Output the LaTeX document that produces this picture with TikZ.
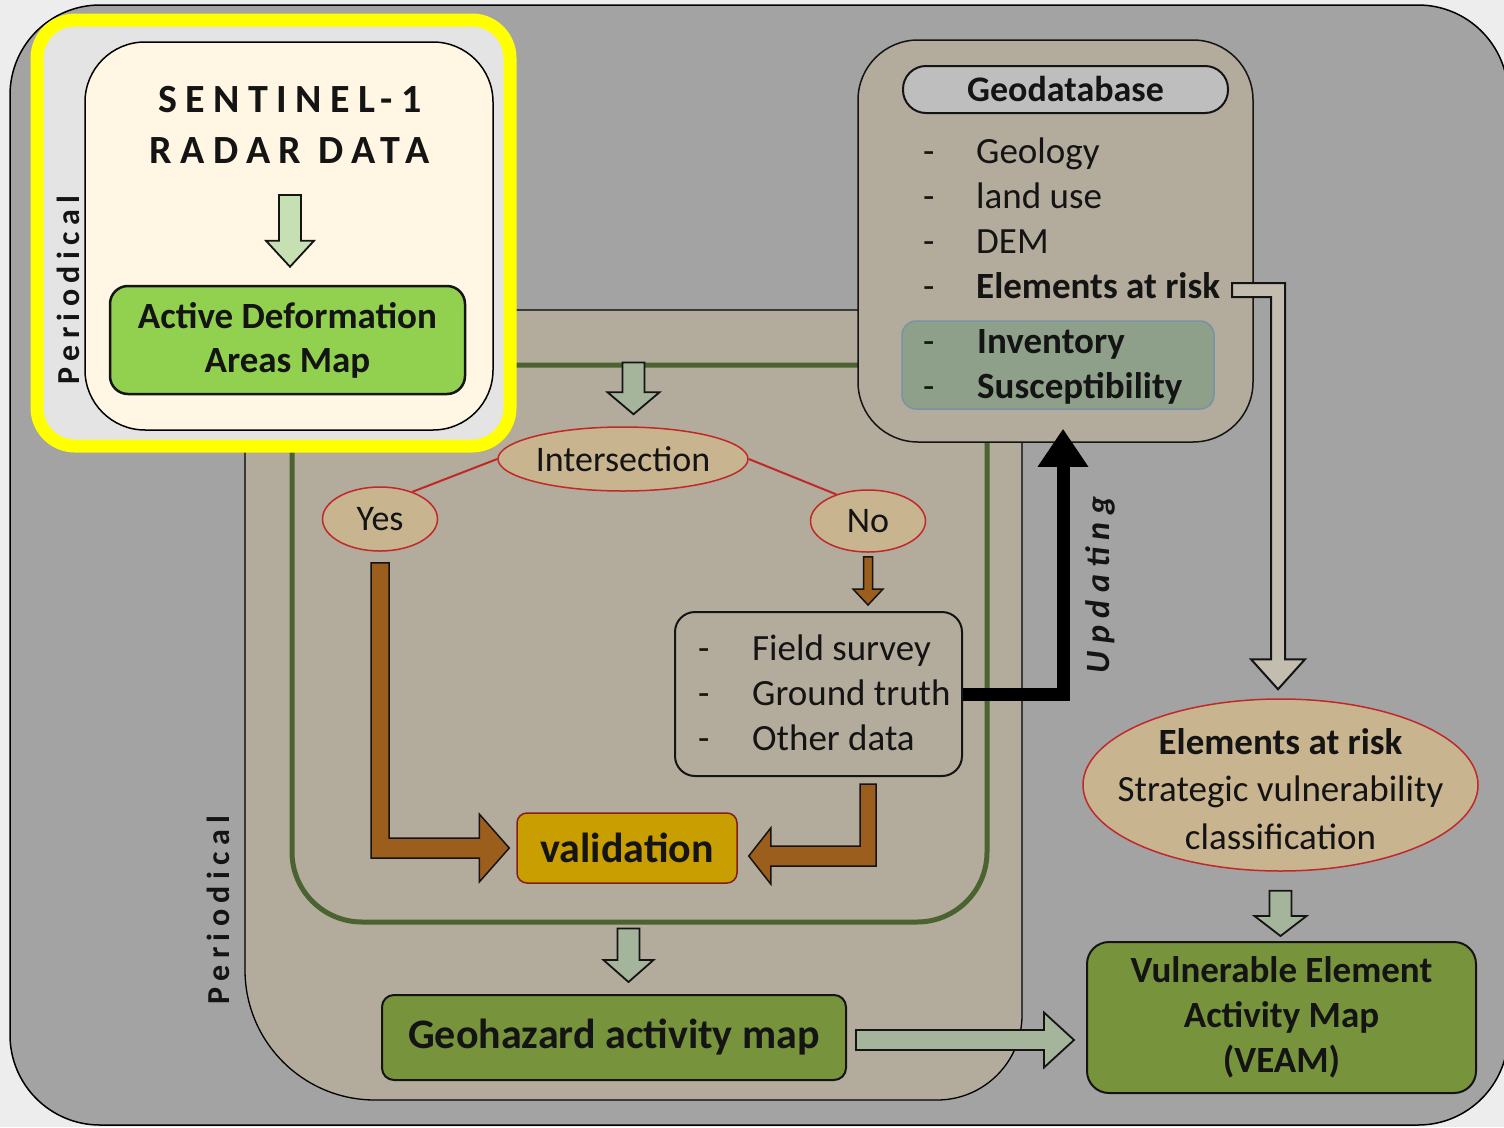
\documentclass[tikz,border=0pt]{standalone}
\usepackage{fontspec}
\setmainfont{Carlito}
\usetikzlibrary{arrows.meta,calc,shapes.geometric}
\definecolor{outbg}{HTML}{EDEDED}
\definecolor{panelgray}{HTML}{A3A3A3}
\definecolor{tanc}{HTML}{B3AB9B}
\definecolor{creamc}{HTML}{FFF6E4}
\definecolor{innergray}{HTML}{E4E4E4}
\definecolor{yel}{HTML}{FFFF00}
\definecolor{limec}{HTML}{92D050}
\definecolor{olivec}{HTML}{77933C}
\definecolor{ellc}{HTML}{C8B48F}
\definecolor{redc}{HTML}{C0282A}
\definecolor{goldc}{HTML}{C99E00}
\definecolor{invc}{HTML}{8EA08A}
\definecolor{invb}{HTML}{7892A6}
\definecolor{hdrc}{HTML}{BEBEBE}
\definecolor{sagec}{HTML}{A4B59C}
\definecolor{palegr}{HTML}{C6E0B4}
\definecolor{brownc}{HTML}{9B5E1D}
\definecolor{grnline}{HTML}{4A6330}
\definecolor{shaftc}{HTML}{C3BDB0}
\definecolor{txt}{HTML}{141414}
\newcommand{\myfs}[2]{\fontsize{#1}{#2}\selectfont}
% vertical block arrow: style, top point, tip point, shaft half width, head half width, head length
\newcommand{\vblk}[6]{%
  \path[#1] let \p1=(#2), \p2=(#3) in
    (\x1-#4,\y1) -- (\x1+#4,\y1) -- (\x1+#4,\y2+#6) -- (\x1+#5,\y2+#6)
    -- (\x1,\y2) -- (\x1-#5,\y2+#6) -- (\x1-#4,\y2+#6) -- cycle;}
\tikzset{
  boxed/.style={draw=txt, line width=2pt, rounded corners=#1, inner sep=0pt, align=center},
  boxed/.default=12pt,
  ell/.style={ellipse, draw=redc, line width=1.5pt, fill=ellc, inner sep=0pt},
  lbl/.style={inner sep=0pt, anchor=base west},
  hollow/.style={fill=sagec, draw=txt, line width=1.8pt, line join=miter},
  palearrow/.style={fill=palegr, draw=txt, line width=1.8pt, line join=miter},
  brownarr/.style={fill=brownc, draw=txt, line width=1.5pt, line join=miter},
  dblarrow/.style={fill=shaftc, draw=txt, line width=2pt, line join=miter},
}
\begin{document}
\begin{tikzpicture}[x=1pt,y=-1pt,text=txt,font=\myfs{37}{45}]
\useasboundingbox (0,0) rectangle (1504,1127);
\fill[outbg] (0,0) rectangle (1504,1127);
% outer gray panel
\draw[fill=panelgray, line width=1.5pt, rounded corners=90pt] (10,5) rectangle (1508,1125);
% tan periodical panel
\draw[fill=tanc, line width=1.3pt] (245,310) -- (1022,310) -- (1022,1015)
   arc[start angle=0,end angle=90,radius=85] -- (375,1100)
   arc[start angle=90,end angle=180,radius=130] -- cycle;
% green loop frame
\node[draw=grnline, line width=5pt, rounded corners=70pt, minimum width=695pt, minimum height=557pt, inner sep=0pt] (grn) at (639.5,643.5) {};
\node[rotate=90, inner sep=0pt, font=\myfs{32}{36}\bfseries\addfontfeature{LetterSpace=20}] (per2) at (218,910) {Periodical};

% Geodatabase panel
\node[boxed=60pt, fill=tanc, line width=1.5pt, minimum width=395pt, minimum height=402pt] (geo) at (1055.5,241) {};
\node[boxed=23pt, fill=hdrc, minimum width=325pt, minimum height=47pt, font=\myfs{36}{40}\bfseries] (gdb) at (1065.5,89.5) {Geodatabase};
\node[draw=invb, fill=invc, line width=1.5pt, rounded corners=14pt, minimum width=312pt, minimum height=88pt, inner sep=0pt] (inv) at (1058,365) {};
\node[lbl] (gd1) at (923,163) {-};
\node[lbl] (gt1) at (976,163) {Geology};
\node[lbl] (gd2) at (923,208) {-};
\node[lbl] (gt2) at (976,208) {land use};
\node[lbl] (gd3) at (923,253) {-};
\node[lbl] (gt3) at (976,253) {DEM};
\node[lbl] (gd4) at (923,298) {-};
\node[lbl, font=\myfs{37}{45}\bfseries] (ear) at (976,298) {Elements at risk};
\node[lbl] (gd5) at (923,353) {-};
\node[lbl, font=\myfs{37}{45}\bfseries] (gt5) at (977,353) {Inventory};
\node[lbl] (gd6) at (923,398) {-};
\node[lbl, font=\myfs{37}{45}\bfseries] (gt6) at (977,398) {Susceptibility};

% Elements at risk ellipse
\node[ell, minimum width=395pt, minimum height=172pt] (risk) at (1280.5,785) {};
\node[align=center, inner sep=0pt, font=\myfs{37}{47.5}] (risktxt) at (1280.5,789) {{\bfseries Elements at risk}\\Strategic vulnerability\\classification};

% double-line arrow geodatabase -> elements at risk
\path[dblarrow] let \p1=(ear.base east), \p2=(risk.north) in
  (\x1+12pt,\y1+15pt) -- (\x2+4.5pt,\y1+15pt) -- (\x2+4.5pt,\y2+39pt) -- (\x2+24.5pt,\y2+39pt)
  -- (\x2-2.5pt,\y2+9pt) -- (\x2-29.5pt,\y2+39pt) -- (\x2-9.5pt,\y2+39pt) -- (\x2-9.5pt,\y1+1pt)
  -- (\x1+12pt,\y1+1pt) -- cycle;

% Intersection and branches
\node[ell, minimum width=250pt, minimum height=64pt, font=\myfs{36}{40}] (isect) at (623,459) {Intersection};
\node[ell, minimum width=115pt, minimum height=64pt, font=\myfs{36}{40}] (yes) at (380,519) {Yes};
\node[ell, minimum width=115pt, minimum height=62pt, font=\myfs{36}{40}] (no) at (868,521) {No};
\draw[redc, line width=2pt] (isect.west) -- (yes.40);
\draw[redc, line width=2pt] (isect.east) -- (no.140);

% field survey box
\node[boxed=20pt, minimum width=287pt, minimum height=164pt] (fld) at (818.5,694) {};
\node[lbl] (fd1) at (698,660) {-};
\node[lbl] (ft1) at (752,660) {Field survey};
\node[lbl] (fd2) at (698,705) {-};
\node[lbl] (ft2) at (752,705) {Ground truth};
\node[lbl] (fd3) at (698,750) {-};
\node[lbl] (ft3) at (752,750) {Other data};

% validation
\node[fill=goldc, draw=redc!70!black, line width=1.5pt, rounded corners=10pt, minimum width=220pt, minimum height=70pt, inner sep=0pt, font=\myfs{42}{48}\bfseries] (val) at (627,848) {validation};

% outputs
\node[boxed=12pt, fill=olivec, minimum width=464pt, minimum height=85pt, font=\myfs{42}{48}\bfseries] (geoh) at (614,1037.5) {Geohazard activity map};
\node[boxed=22pt, fill=olivec, minimum width=389pt, minimum height=151pt, font=\myfs{37}{45}\bfseries] (veam) at (1281.5,1017.5) {Vulnerable Element\\Activity Map\\(VEAM)};

% arrows
\vblk{hollow}{[xshift=-6pt]grn.north}{[yshift=12pt]isect.north}{11pt}{26pt}{22pt}
\vblk{hollow}{[xshift=-11pt,yshift=-4pt]grn.south}{[yshift=12pt]geoh.north}{11pt}{25pt}{22pt}
\vblk{hollow}{[yshift=-19pt]risk.south}{[yshift=5pt]veam.north}{11pt}{26pt}{20pt}
\vblk{brownarr}{[yshift=-4pt]no.south}{[yshift=6pt]fld.north}{4.5pt}{15pt}{16pt}
\path[brownarr] let \p1=(yes.south), \p2=(val.west) in
  (\x1-9pt,\y1-11pt) -- (\x1+9pt,\y1-11pt) -- (\x1+9pt,\y2+10pt) -- (\x2-37pt,\y2+10pt)
  -- (\x2-37pt,\y2+34pt) -- (\x2-7pt,\y2) -- (\x2-37pt,\y2-34pt) -- (\x2-37pt,\y2-10pt)
  -- (\x1-9pt,\y2-10pt) -- cycle;
\path[brownarr] let \p1=(no.south), \p2=(fld.south), \p3=(val.east) in
  (\x1-8pt,\y2-7pt) -- (\x1+8pt,\y2-7pt) -- (\x1+8pt,\y3-18pt) -- (\x3+33pt,\y3-18pt)
  -- (\x3+33pt,\y3-36pt) -- (\x3+11pt,\y3-8pt) -- (\x3+33pt,\y3+20pt) -- (\x3+33pt,\y3+2pt)
  -- (\x1-8pt,\y3+2pt) -- cycle;
\path[hollow] let \p1=(geoh.east), \p2=(veam.west) in
  (\x1+9pt,\y1+7.5pt) -- (\x2-42pt,\y1+7.5pt) -- (\x2-42pt,\y1+25pt) -- (\x2-12pt,\y1-2.5pt)
  -- (\x2-42pt,\y1-30pt) -- (\x2-42pt,\y1-12.5pt) -- (\x1+9pt,\y1-12.5pt) -- cycle;

% updating arrow
\draw[line width=13pt, -{Triangle[width=48pt,length=38pt]}] (fld.east) -| ([xshift=7.5pt,yshift=14pt]geo.south);
\node[rotate=90, inner sep=0pt, font=\myfs{34}{36}\bfseries\itshape\addfontfeature{LetterSpace=22}] (upd) at (1100,585) {Updating};

% highlighted Sentinel panel
\draw[yel, line width=13pt, fill=innergray, rounded corners=38pt] (37,20) rectangle (510,446);
\draw[fill=creamc, line width=1.5pt, rounded corners=60pt] (85,42) rectangle (493,430);
\node[rotate=90, inner sep=0pt, font=\myfs{32}{36}\bfseries\addfontfeature{LetterSpace=20}] (per1) at (68,290) {Periodical};
\node[inner sep=0pt, anchor=base, font=\myfs{40}{48}\bfseries\addfontfeature{LetterSpace=21}] (sent) at (290,112) {SENTINEL-1};
\node[inner sep=0pt, anchor=base, font=\myfs{40}{48}\bfseries\addfontfeature{LetterSpace=21}] (radar) at (290,163) {RADAR DATA};
\node[boxed=18pt, fill=limec, line width=2.5pt, minimum width=355pt, minimum height=108pt, font=\myfs{37}{44}\bfseries] (adam) at (287.5,340) {Active Deformation\\Areas Map};
\vblk{palearrow}{[yshift=-32pt]radar.base}{[yshift=18pt]adam.north}{11pt}{24pt}{26pt}
\end{tikzpicture}
\end{document}
